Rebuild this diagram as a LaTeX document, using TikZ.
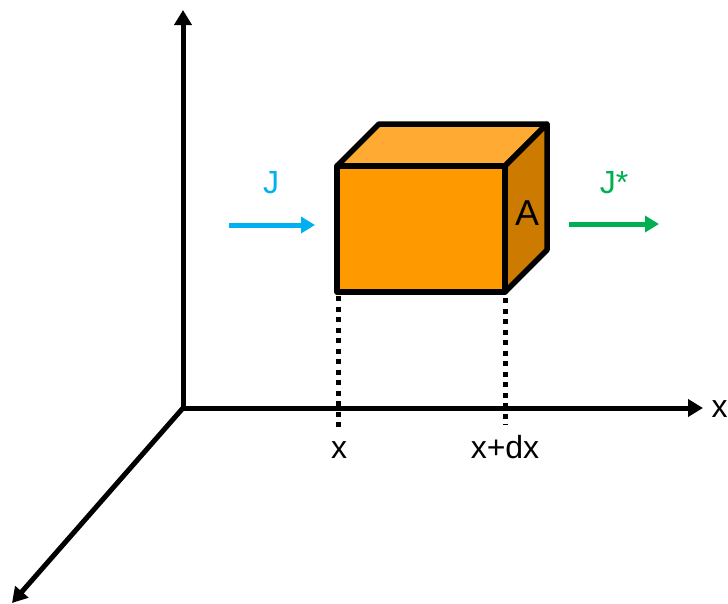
\documentclass[tikz,border=0pt]{standalone}
\usepackage{fontspec}
\setmainfont{Liberation Sans}
\usetikzlibrary{arrows.meta}
\definecolor{frontc}{HTML}{FF9900}
\definecolor{topc}{HTML}{FFAB33}
\definecolor{sidec}{HTML}{CC7A00}
\definecolor{jblue}{HTML}{00B0F0}
\definecolor{jgreen}{HTML}{00B050}
\tikzset{
  axisline/.style={line width=5pt,-{Triangle[length=15pt,width=17pt]}},
  boxface/.style={draw=black,line width=5.5pt,line join=round},
  dropline/.style={line width=5pt,dash pattern=on 5pt off 5.5pt},
  flux/.style={line width=5pt,-{Triangle[length=14pt,width=16pt]}},
  lbl/.style={inner sep=0pt,anchor=base,font=\fontsize{32}{38}\selectfont},
  biglbl/.style={inner sep=0pt,anchor=base,font=\fontsize{36}{43}\selectfont}
}
\begin{document}
\begin{tikzpicture}[x=1pt,y=-1pt]
\useasboundingbox (0,0) rectangle (728,603);
% axes
\coordinate (o) at (183,408);
\coordinate (ytip) at (183,10);
\coordinate (xtip) at (703,408);
\coordinate (ztip) at (12,603);
\draw[axisline] (o) -- (ytip);
\draw[axisline] (o) -- (xtip);
\draw[axisline] (o) -- (ztip);
% cube corners
\coordinate (ftl) at (337,166);
\coordinate (ftr) at (505,166);
\coordinate (fbr) at (505,292);
\coordinate (fbl) at (337,292);
\coordinate (btl) at (379,124);
\coordinate (btr) at (547,124);
\coordinate (bbr) at (547,250);
% drop lines
\coordinate (xend) at (338,431);
\coordinate (dxend) at (505,425);
\draw[dropline] (338,296) -- (xend);
\draw[dropline] (505,298) -- (dxend);
% cube faces
\draw[boxface,fill=topc] (ftl) -- (btl) -- (btr) -- (ftr) -- cycle;
\draw[boxface,fill=sidec] (ftr) -- (btr) -- (bbr) -- (fbr) -- cycle;
\draw[boxface,fill=frontc] (ftl) -- (ftr) -- (fbr) -- (fbl) -- cycle;
\node[biglbl] (a) at (527,225) {A};
% fluxes
\coordinate (js) at (229,225);
\coordinate (je) at (315,225);
\coordinate (gs) at (569,224);
\coordinate (ge) at (659,224);
\draw[flux,jblue] (js) -- (je);
\draw[flux,jgreen] (gs) -- (ge);
\node[lbl,text=jblue] (j) at (271,193) {J};
\node[lbl,text=jgreen] (jstar) at (614,193) {J*};
% axis labels
\node[lbl] (x1) at (339,458) {x};
\node[lbl] (x2) at (505,458) {x+dx};
\node[lbl,anchor=base west] (x3) at (711.5,417) {x};
\end{tikzpicture}
\end{document}
